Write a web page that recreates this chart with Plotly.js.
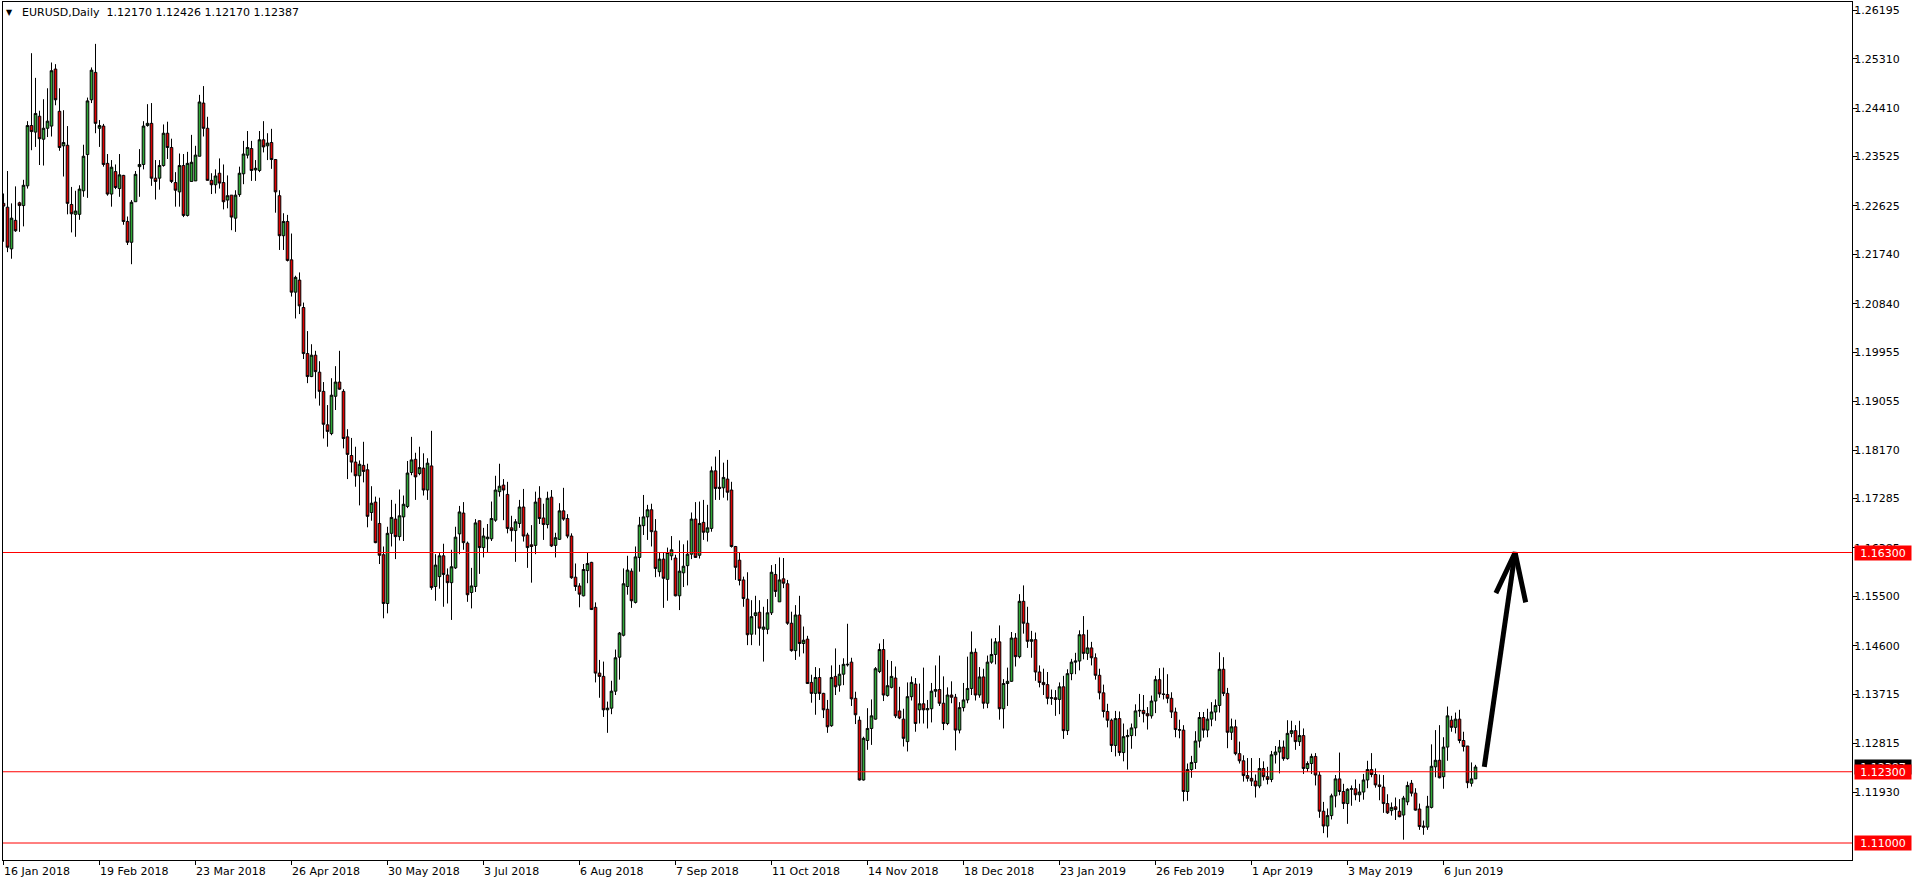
<!DOCTYPE html>
<html>
<head>
<meta charset="utf-8">
<script src="https://cdn.plot.ly/plotly-3.0.1.min.js"></script>
<style>
  html, body { margin: 0; padding: 0; background: #ffffff; }
  #chart { width: 1916px; height: 884px; }
</style>
</head>
<body>
<div id="chart"></div>
<script>
// ---- Data (EURUSD daily, bar index 0 = 16 Jan 2018) ----
const openP = [
1.2267,1.2260,1.2184,1.2236,1.2268,1.2263,1.2299,1.2409,1.2397,1.2426,
1.2384,1.2404,1.2408,1.2512,1.2435,1.2372,1.2373,1.2265,1.2247,1.2247,
1.2290,1.2356,1.2456,1.2506,1.2404,1.2408,1.2340,1.2284,1.2325,1.2294,
1.2318,1.2234,1.2196,1.2270,1.2334,1.2338,1.2409,1.2413,1.2313,1.2313,
1.2336,1.2395,1.2369,1.2305,1.2288,1.2336,1.2245,1.2307,1.2308,1.2353,
1.2450,1.2404,1.2309,1.2301,1.2322,1.2305,1.2273,1.2282,1.2240,1.2283,
1.2321,1.2355,1.2367,1.2328,1.2327,1.2383,1.2372,1.2378,1.2347,1.2281,
1.2208,1.2234,1.2164,1.2105,1.2127,1.2077,1.1993,1.1951,1.1990,1.1959,
1.1924,1.1863,1.1847,1.1915,1.1941,1.1924,1.1841,1.1807,1.1795,1.1770,
1.1789,1.1781,1.1703,1.1722,1.1683,1.1626,1.1537,1.1665,1.1691,1.1659,
1.1695,1.1714,1.1776,1.1800,1.1774,1.1784,1.1744,1.1788,1.1568,1.1586,
1.1624,1.1589,1.1575,1.1602,1.1664,1.1702,1.1647,1.1557,1.1568,1.1688,
1.1639,1.1655,1.1655,1.1689,1.1741,1.1753,1.1736,1.1675,1.1670,1.1683,
1.1713,1.1662,1.1644,1.1643,1.1729,1.1693,1.1681,1.1731,1.1643,1.1654,
1.1706,1.1692,1.1660,1.1585,1.1569,1.1551,1.1597,1.1612,1.1530,1.1410,
1.1404,1.1343,1.1346,1.1377,1.1439,1.1479,1.1568,1.1596,1.1539,1.1621,
1.1679,1.1695,1.1708,1.1669,1.1595,1.1618,1.1581,1.1624,1.1620,1.1551,
1.1593,1.1606,1.1627,1.1691,1.1625,1.1685,1.1667,1.1674,1.1779,1.1749,
1.1748,1.1764,1.1744,1.1641,1.1616,1.1580,1.1545,1.1481,1.1515,1.1521,
1.1490,1.1490,1.1520,1.1590,1.1540,1.1582,1.1573,1.1501,1.1451,1.1516,
1.1464,1.1472,1.1393,1.1373,1.1402,1.1373,1.1344,1.1314,1.1404,1.1388,
1.1408,1.1425,1.1430,1.1364,1.1324,1.1215,1.1287,1.1309,1.1326,1.1413,
1.1453,1.1369,1.1384,1.1401,1.1341,1.1326,1.1285,1.1367,1.1390,1.1343,
1.1354,1.1343,1.1345,1.1377,1.1380,1.1355,1.1318,1.1370,1.1366,1.1306,
1.1347,1.1361,1.1382,1.1448,1.1370,1.1403,1.1355,1.1430,1.1444,1.1467,
1.1345,1.1391,1.1395,1.1474,1.1440,1.1541,1.1501,1.1468,1.1471,1.1412,
1.1393,1.1389,1.1364,1.1365,1.1362,1.1385,1.1305,1.1409,1.1430,1.1432,
1.1480,1.1446,1.1456,1.1438,1.1406,1.1374,1.1340,1.1324,1.1278,1.1327,
1.1265,1.1294,1.1296,1.1310,1.1341,1.1342,1.1336,1.1332,1.1359,1.1398,
1.1372,1.1371,1.1364,1.1339,1.1307,1.1306,1.1194,1.1234,1.1247,1.1286,
1.1329,1.1306,1.1326,1.1339,1.1351,1.1417,1.1373,1.1302,1.1312,1.1263,
1.1250,1.1223,1.1218,1.1213,1.1204,1.1236,1.1221,1.1216,1.1261,1.1266,
1.1275,1.1254,1.1300,1.1305,1.1285,1.1296,1.1236,1.1245,1.1258,1.1224,
1.1158,1.1131,1.1150,1.1186,1.1217,1.1194,1.1172,1.1198,1.1199,1.1188,
1.1193,1.1215,1.1234,1.1225,1.1206,1.1202,1.1172,1.1159,1.1166,1.1158,
1.1151,1.1175,1.1209,1.1191,1.1162,1.1131,1.1129,1.1165,1.1239,1.1251,
1.1221,1.1275,1.1324,1.1311,1.1326,1.1287,1.1277,1.1209,1.12170
];
const highP = [
1.2285,1.2326,1.2267,1.2298,1.2270,1.2310,1.2417,1.2541,1.2496,1.2436,
1.2457,1.2477,1.2524,1.2521,1.2477,1.2437,1.2408,1.2297,1.2290,1.2300,
1.2374,1.2460,1.2515,1.2558,1.2419,1.2412,1.2357,1.2346,1.2338,1.2357,
1.2319,1.2243,1.2273,1.2326,1.2366,1.2417,1.2448,1.2450,1.2346,1.2346,
1.2411,1.2416,1.2385,1.2324,1.2358,1.2357,1.2361,1.2392,1.2372,1.2465,
1.2481,1.2425,1.2322,1.2329,1.2349,1.2338,1.2318,1.2282,1.2291,1.2334,
1.2381,1.2399,1.2381,1.2346,1.2399,1.2417,1.2395,1.2403,1.2348,1.2291,
1.2249,1.2246,1.2212,1.2135,1.2141,1.2086,1.2034,1.2010,1.1998,1.1979,
1.1941,1.1899,1.1948,1.1970,1.1998,1.1928,1.1855,1.1839,1.1823,1.1798,
1.1832,1.1792,1.1751,1.1732,1.1730,1.1641,1.1677,1.1726,1.1719,1.1745,
1.1734,1.1797,1.1841,1.1812,1.1823,1.1811,1.1802,1.1852,1.1627,1.1629,
1.1646,1.1601,1.1635,1.1677,1.1715,1.1722,1.1650,1.1602,1.1691,1.1688,
1.1675,1.1682,1.1723,1.1770,1.1792,1.1764,1.1759,1.1697,1.1691,1.1726,
1.1746,1.1666,1.1680,1.1741,1.1751,1.1719,1.1741,1.1744,1.1666,1.1720,
1.1748,1.1700,1.1665,1.1610,1.1574,1.1609,1.1630,1.1613,1.1539,1.1434,
1.1431,1.1358,1.1396,1.1453,1.1485,1.1601,1.1624,1.1601,1.1641,1.1695,
1.1735,1.1717,1.1719,1.1691,1.1630,1.1630,1.1639,1.1660,1.1626,1.1652,
1.1645,1.1652,1.1703,1.1722,1.1723,1.1726,1.1717,1.1787,1.1805,1.1817,
1.1794,1.1799,1.1759,1.1642,1.1630,1.1586,1.1594,1.1543,1.1551,1.1543,
1.1531,1.1545,1.1607,1.1609,1.1621,1.1620,1.1580,1.1522,1.1534,1.1551,
1.1495,1.1478,1.1407,1.1421,1.1419,1.1374,1.1361,1.1424,1.1455,1.1425,
1.1437,1.1500,1.1438,1.1376,1.1331,1.1294,1.1346,1.1362,1.1421,1.1464,
1.1472,1.1434,1.1432,1.1422,1.1385,1.1345,1.1393,1.1404,1.1401,1.1391,
1.1420,1.1361,1.1392,1.1424,1.1442,1.1404,1.1384,1.1395,1.1372,1.1357,
1.1392,1.1440,1.1486,1.1455,1.1421,1.1418,1.1442,1.1473,1.1474,1.1497,
1.1399,1.1420,1.1485,1.1483,1.1554,1.1570,1.1531,1.1487,1.1484,1.1424,
1.1418,1.1412,1.1380,1.1379,1.1393,1.1405,1.1417,1.1436,1.1447,1.1488,
1.1514,1.1489,1.1467,1.1446,1.1418,1.1389,1.1354,1.1327,1.1341,1.1340,
1.1318,1.1307,1.1318,1.1353,1.1372,1.1370,1.1348,1.1369,1.1405,1.1419,
1.1420,1.1408,1.1375,1.1347,1.1325,1.1315,1.1245,1.1259,1.1304,1.1339,
1.1339,1.1345,1.1357,1.1362,1.1448,1.1439,1.1383,1.1327,1.1325,1.1285,
1.1260,1.1255,1.1255,1.1225,1.1255,1.1249,1.1239,1.1268,1.1277,1.1288,
1.1287,1.1324,1.1323,1.1315,1.1323,1.1309,1.1249,1.1263,1.1264,1.1230,
1.1175,1.1163,1.1190,1.1224,1.1265,1.1208,1.1200,1.1205,1.1216,1.1208,
1.1226,1.1250,1.1264,1.1236,1.1225,1.1224,1.1189,1.1174,1.1183,1.1180,
1.1186,1.1212,1.1215,1.1200,1.1172,1.1141,1.1186,1.1280,1.1306,1.1315,
1.1293,1.1349,1.1332,1.1338,1.1343,1.1303,1.1277,1.1247,1.12426
];
const lowP = [
1.2197,1.2178,1.2166,1.2215,1.2215,1.2225,1.2294,1.2364,1.2370,1.2337,
1.2336,1.2388,1.2389,1.2446,1.2363,1.2316,1.2247,1.2214,1.2206,1.2237,
1.2279,1.2277,1.2450,1.2395,1.2370,1.2334,1.2281,1.2261,1.2293,1.2279,
1.2228,1.2191,1.2156,1.2270,1.2279,1.2329,1.2407,1.2299,1.2274,1.2292,
1.2334,1.2348,1.2304,1.2261,1.2261,1.2242,1.2243,1.2307,1.2308,1.2353,
1.2389,1.2309,1.2284,1.2285,1.2294,1.2256,1.2258,1.2218,1.2215,1.2279,
1.2302,1.2349,1.2308,1.2308,1.2324,1.2360,1.2346,1.2330,1.2250,1.2182,
1.2182,1.2161,1.2097,1.2057,1.2065,1.1983,1.1939,1.1950,1.1911,1.1898,
1.1838,1.1823,1.1844,1.1890,1.1927,1.1820,1.1764,1.1776,1.1750,1.1716,
1.1758,1.1676,1.1688,1.1647,1.1609,1.1510,1.1519,1.1641,1.1618,1.1652,
1.1651,1.1711,1.1771,1.1726,1.1771,1.1734,1.1726,1.1562,1.1542,1.1564,
1.1531,1.1537,1.1507,1.1600,1.1627,1.1635,1.1540,1.1528,1.1558,1.1591,
1.1621,1.1630,1.1651,1.1686,1.1732,1.1689,1.1665,1.1650,1.1613,1.1675,
1.1650,1.1602,1.1575,1.1627,1.1682,1.1653,1.1674,1.1640,1.1621,1.1653,
1.1688,1.1656,1.1582,1.1560,1.1530,1.1550,1.1574,1.1525,1.1393,1.1365,
1.1330,1.1301,1.1335,1.1370,1.1398,1.1477,1.1553,1.1529,1.1537,1.1595,
1.1662,1.1653,1.1641,1.1585,1.1586,1.1529,1.1542,1.1616,1.1550,1.1525,
1.1567,1.1570,1.1618,1.1621,1.1619,1.1653,1.1650,1.1668,1.1726,1.1726,
1.1730,1.1725,1.1639,1.1580,1.1570,1.1531,1.1461,1.1461,1.1480,1.1460,
1.1431,1.1481,1.1516,1.1549,1.1540,1.1565,1.1498,1.1449,1.1434,1.1440,
1.1446,1.1390,1.1356,1.1334,1.1361,1.1328,1.1301,1.1312,1.1370,1.1376,
1.1388,1.1422,1.1350,1.1317,1.1214,1.1214,1.1270,1.1279,1.1325,1.1410,
1.1359,1.1367,1.1382,1.1328,1.1326,1.1276,1.1267,1.1360,1.1303,1.1318,
1.1318,1.1309,1.1320,1.1366,1.1350,1.1306,1.1315,1.1355,1.1269,1.1300,
1.1340,1.1355,1.1370,1.1360,1.1365,1.1345,1.1346,1.1427,1.1426,1.1325,
1.1309,1.1350,1.1394,1.1422,1.1437,1.1482,1.1456,1.1438,1.1396,1.1384,
1.1370,1.1353,1.1352,1.1332,1.1335,1.1290,1.1297,1.1397,1.1408,1.1415,
1.1435,1.1434,1.1424,1.1398,1.1362,1.1329,1.1311,1.1266,1.1258,1.1259,
1.1249,1.1234,1.1272,1.1295,1.1330,1.1320,1.1307,1.1327,1.1337,1.1365,
1.1362,1.1355,1.1328,1.1293,1.1291,1.1176,1.1177,1.1219,1.1235,1.1274,
1.1292,1.1293,1.1313,1.1323,1.1338,1.1368,1.1273,1.1288,1.1260,1.1245,
1.1212,1.1212,1.1204,1.1183,1.1200,1.1214,1.1207,1.1211,1.1245,1.1227,
1.1250,1.1252,1.1293,1.1270,1.1277,1.1226,1.1230,1.1226,1.1205,1.1146,
1.1118,1.1110,1.1143,1.1165,1.1187,1.1162,1.1135,1.1168,1.1178,1.1175,
1.1179,1.1200,1.1220,1.1201,1.1178,1.1155,1.1153,1.1150,1.1142,1.1147,
1.1106,1.1169,1.1185,1.1159,1.1124,1.1115,1.1124,1.1163,1.1220,1.1218,
1.1199,1.1250,1.1303,1.1300,1.1282,1.1267,1.1200,1.1203,1.12170
];
const closeP = [
1.2262,1.2187,1.2240,1.2217,1.2263,1.2300,1.2409,1.2398,1.2431,1.2385,
1.2404,1.2417,1.2509,1.2456,1.2369,1.2378,1.2267,1.2248,1.2253,1.2293,
1.2353,1.2454,1.2510,1.2413,1.2409,1.2338,1.2284,1.2333,1.2296,1.2319,
1.2234,1.2196,1.2269,1.2320,1.2338,1.2408,1.2413,1.2313,1.2307,1.2336,
1.2395,1.2369,1.2307,1.2291,1.2336,1.2245,1.2340,1.2342,1.2355,1.2452,
1.2404,1.2309,1.2301,1.2317,1.2304,1.2270,1.2281,1.2242,1.2282,1.2322,
1.2357,1.2369,1.2327,1.2331,1.2383,1.2370,1.2377,1.2347,1.2288,1.2208,
1.2234,1.2163,1.2105,1.2132,1.2080,1.1993,1.1951,1.1990,1.1960,1.1924,
1.1864,1.1851,1.1917,1.1941,1.1928,1.1838,1.1809,1.1795,1.1770,1.1791,
1.1778,1.1696,1.1720,1.1648,1.1625,1.1537,1.1665,1.1694,1.1659,1.1697,
1.1718,1.1775,1.1799,1.1768,1.1785,1.1744,1.1793,1.1566,1.1607,1.1624,
1.1590,1.1575,1.1604,1.1658,1.1704,1.1648,1.1553,1.1569,1.1684,1.1639,
1.1660,1.1658,1.1692,1.1744,1.1751,1.1744,1.1674,1.1670,1.1686,1.1713,
1.1660,1.1639,1.1641,1.1722,1.1692,1.1681,1.1729,1.1642,1.1657,1.1706,
1.1691,1.1660,1.1584,1.1568,1.1554,1.1599,1.1610,1.1526,1.1410,1.1404,
1.1343,1.1346,1.1377,1.1438,1.1483,1.1573,1.1598,1.1542,1.1622,1.1680,
1.1695,1.1708,1.1668,1.1601,1.1618,1.1583,1.1630,1.1635,1.1551,1.1596,
1.1605,1.1627,1.1691,1.1621,1.1683,1.1667,1.1675,1.1779,1.1747,1.1747,
1.1767,1.1740,1.1641,1.1603,1.1579,1.1546,1.1480,1.1513,1.1520,1.1492,
1.1494,1.1520,1.1594,1.1559,1.1580,1.1574,1.1501,1.1451,1.1516,1.1464,
1.1470,1.1391,1.1373,1.1402,1.1373,1.1343,1.1312,1.1402,1.1385,1.1408,
1.1426,1.1426,1.1363,1.1334,1.1215,1.1291,1.1309,1.1332,1.1418,1.1453,
1.1370,1.1387,1.1404,1.1332,1.1328,1.1291,1.1367,1.1393,1.1318,1.1354,
1.1343,1.1345,1.1377,1.1380,1.1355,1.1318,1.1370,1.1366,1.1306,1.1347,
1.1361,1.1382,1.1448,1.1370,1.1403,1.1355,1.1430,1.1444,1.1467,1.1345,
1.1391,1.1395,1.1474,1.1440,1.1541,1.1501,1.1468,1.1471,1.1412,1.1393,
1.1389,1.1364,1.1365,1.1362,1.1385,1.1305,1.1409,1.1430,1.1432,1.1480,
1.1446,1.1456,1.1438,1.1406,1.1374,1.1340,1.1324,1.1278,1.1327,1.1265,
1.1294,1.1296,1.1310,1.1341,1.1342,1.1336,1.1332,1.1359,1.1398,1.1372,
1.1371,1.1364,1.1339,1.1307,1.1306,1.1194,1.1234,1.1247,1.1286,1.1329,
1.1306,1.1326,1.1339,1.1351,1.1417,1.1373,1.1302,1.1312,1.1263,1.1250,
1.1223,1.1218,1.1213,1.1204,1.1236,1.1221,1.1216,1.1261,1.1266,1.1275,
1.1254,1.1300,1.1305,1.1285,1.1296,1.1236,1.1245,1.1258,1.1224,1.1158,
1.1131,1.1150,1.1186,1.1217,1.1194,1.1172,1.1198,1.1199,1.1188,1.1193,
1.1215,1.1234,1.1225,1.1206,1.1203,1.1172,1.1155,1.1165,1.1161,1.1148,
1.1182,1.1205,1.1191,1.1160,1.1130,1.1129,1.1167,1.1240,1.1251,1.1219,
1.1275,1.1332,1.1311,1.1326,1.1287,1.1276,1.1210,1.1217,1.12387
];

// date tick labels every 24 bars
const dateTickBars = [0,24,48,72,96,120,144,168,192,216,240,264,288,312,336,360];
const dateTickLabels = ["16 Jan 2018","19 Feb 2018","23 Mar 2018","26 Apr 2018","30 May 2018","3 Jul 2018",
  "6 Aug 2018","7 Sep 2018","11 Oct 2018","14 Nov 2018","18 Dec 2018","23 Jan 2019","26 Feb 2019",
  "1 Apr 2019","3 May 2019","6 Jun 2019"];

// price scale ticks
const priceTicks = [1.26195,1.25310,1.24410,1.23525,1.22625,1.21740,1.20840,1.19955,1.19055,1.18170,
  1.17285,1.16385,1.15500,1.14600,1.13715,1.12815,1.11930];
const priceTickLabels = priceTicks.map(v => v.toFixed(5));

// horizontal levels
const levels = [1.16300, 1.12300, 1.11000];
const levelLabels = ["1.16300", "1.12300", "1.11000"];
const currentPrice = 1.12387;
const headerText = "EURUSD,Daily&nbsp; 1.12170 1.12426 1.12170 1.12387";

// hand-drawn arrow (bar index, price)
const arrowX = [370.2, 377.9, null, 373.1, 377.9, 380.55];
const arrowY = [1.1239, 1.1630, null, 1.1556, 1.1630, 1.1539];

// ---- Build ----
const barIdx = openP.map((_, i) => i);
const W = 1916, H = 884;
const M = {l: 3, r: 64, t: 2, b: 24};
const plotW = W - M.l - M.r, plotH = H - M.t - M.b;
const pxX = px => (px - M.l) / plotW;
const pxY = py => (H - M.b - py) / plotH;

const FONT = "DejaVu Sans, Verdana, sans-serif";

const traces = [
  {
    type: 'candlestick',
    x: barIdx, open: openP, high: highP, low: lowP, close: closeP,
    increasing: {line: {color: '#000000', width: 1}, fillcolor: '#2fa836'},
    decreasing: {line: {color: '#000000', width: 1}, fillcolor: '#e00000'},
    whiskerwidth: 0,
    hoverinfo: 'skip'
  },
  {
    type: 'scatter', mode: 'lines',
    x: arrowX, y: arrowY,
    line: {color: '#000000', width: 5},
    connectgaps: false,
    hoverinfo: 'skip'
  }
];

const shapes = levels.map(v => ({
  type: 'line', xref: 'paper', x0: 0, x1: 1, yref: 'y', y0: v, y1: v,
  line: {color: '#ff0000', width: 1}
}));

const annotations = [];
dateTickBars.forEach((b, i) => {
  annotations.push({
    xref: 'x', x: b, yref: 'paper', y: 0,
    xanchor: 'left', yanchor: 'top', xshift: -2, yshift: -3,
    text: dateTickLabels[i], showarrow: false,
    font: {family: FONT, size: 11, color: '#000000'}
  });
});
annotations.push({
  xref: 'paper', x: 1, xanchor: 'left', xshift: 2,
  yref: 'y', y: currentPrice, yanchor: 'middle',
  text: currentPrice.toFixed(5), showarrow: false,
  bgcolor: '#000000', width: 56, height: 14, borderpad: 0,
  font: {family: FONT, size: 11, color: '#ffffff'}
});
levels.forEach((v, i) => {
  annotations.push({
    xref: 'paper', x: 1, xanchor: 'left', xshift: 2,
    yref: 'y', y: v, yanchor: 'middle',
    text: levelLabels[i], showarrow: false,
    bgcolor: '#ff0000', width: 56, height: 14, borderpad: 0,
    font: {family: FONT, size: 11, color: '#ffffff'}
  });
});
annotations.push({
  xref: 'paper', x: pxX(4), yref: 'paper', y: pxY(12),
  xanchor: 'left', yanchor: 'middle', text: '▼', showarrow: false,
  font: {family: FONT, size: 8, color: '#000000'}
});
annotations.push({
  xref: 'paper', x: pxX(20), yref: 'paper', y: pxY(12),
  xanchor: 'left', yanchor: 'middle', text: headerText, showarrow: false,
  font: {family: FONT, size: 11, color: '#000000'}
});

const layout = {
  width: W, height: H,
  margin: {l: M.l, r: M.r, t: M.t, b: M.b, pad: 0},
  paper_bgcolor: '#ffffff', plot_bgcolor: '#ffffff',
  showlegend: false,
  boxgap: 0.35, boxgroupgap: 0,
  xaxis: {
    type: 'linear', range: [-0.125, 462.125],
    showgrid: false, zeroline: false,
    showline: true, linecolor: '#000000', linewidth: 1, mirror: true,
    ticks: 'outside', ticklen: 4, tickcolor: '#000000', tickwidth: 1,
    tickmode: 'array', tickvals: dateTickBars, showticklabels: false,
    rangeslider: {visible: false}, fixedrange: true
  },
  yaxis: {
    side: 'right', range: [1.10690, 1.26344],
    showgrid: false, zeroline: false,
    showline: true, linecolor: '#000000', linewidth: 1, mirror: true,
    ticks: 'outside', ticklen: 4, tickcolor: '#000000', tickwidth: 1,
    tickmode: 'array', tickvals: priceTicks, ticktext: priceTickLabels,
    ticklabelstandoff: -5,
    tickfont: {family: FONT, size: 11, color: '#000000'},
    fixedrange: true
  },
  shapes: shapes,
  annotations: annotations
};

Plotly.newPlot('chart', traces, layout, {staticPlot: true, displayModeBar: false});
</script>
</body>
</html>
